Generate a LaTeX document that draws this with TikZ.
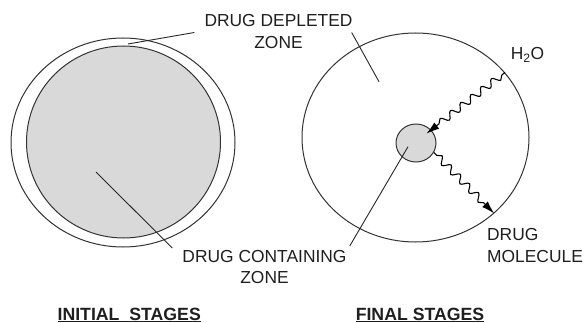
\documentclass[tikz,border=0pt]{standalone}
\usepackage{fontspec}
\setmainfont{Liberation Sans}
\usetikzlibrary{shapes.geometric,decorations.pathmorphing,arrows.meta,calc}
\begin{document}
\begin{tikzpicture}[x=1pt,y=-1pt,
  txt/.style={inner sep=0pt,text=black!88,font=\fontsize{17.4}{21.2}\selectfont},
  ttl/.style={inner sep=0pt,text=black!88,font=\fontsize{17.7}{21}\selectfont\bfseries},
  zone/.style={ellipse,draw=black!80,line width=1pt,inner sep=0pt},
  leader/.style={draw=black!85,line width=0.9pt},
  wig/.style={draw=black,line width=1.1pt,decorate,
    decoration={snake,amplitude=3.5pt,segment length=13pt,pre length=4pt,post length=12pt},
    -{Latex[length=13pt,width=8pt]}}]
\useasboundingbox (0,0) rectangle (585,323);
% initial stages
\node[zone,minimum width=224pt,minimum height=209pt] (outL) at (123,142.5) {};
\node[zone,fill=black!15,minimum width=194pt,minimum height=192pt] (inL) at (123.5,142) {};
% final stages
\node[zone,minimum width=227pt,minimum height=209pt] (outR) at (415.5,137.5) {};
\node[zone,fill=black!15,minimum width=40pt,minimum height=38pt] (sm) at (416,143) {};
% texts
\node[txt,align=center] (dep) at (278.5,31.5) {DRUG DEPLETED\\ZONE};
\node[txt,align=center] (con) at (264.5,267) {DRUG CONTAINING\\ZONE};
\node[txt] (h2o) at (527.5,55) {H\textsubscript{2}O};
\node[txt,align=left] (mol) at (535,245.5) {DRUG\\MOLECULE};
\node[ttl] (ini) at (129.2,315) {\underline{INITIAL\ \ STAGES}};
\node[ttl] (fin) at (420,315) {\underline{FINAL STAGES}};
% leader lines
\coordinate (dL) at (128,44);
\coordinate (dR) at (379,81.7);
\coordinate (cL) at (96,172);
\coordinate (cR) at (408,146.7);
\draw[leader] (dL) -- ($(dep.west)+(-10,1)$);
\draw[leader] ($(dep.east)+(-1,1)$) -- (dR);
\draw[leader] (cL) -- ($(con.north west)+(-10,-2)$);
\draw[leader] (cR) -- ($(con.north east)+(3,-4)$);
% wiggly arrows
\draw[wig] (outR.36.6) -- ($(sm.center)!0.7!(sm.42)$);
\draw[wig] (sm.-28) -- (outR.-44.3);
\end{tikzpicture}
\end{document}
